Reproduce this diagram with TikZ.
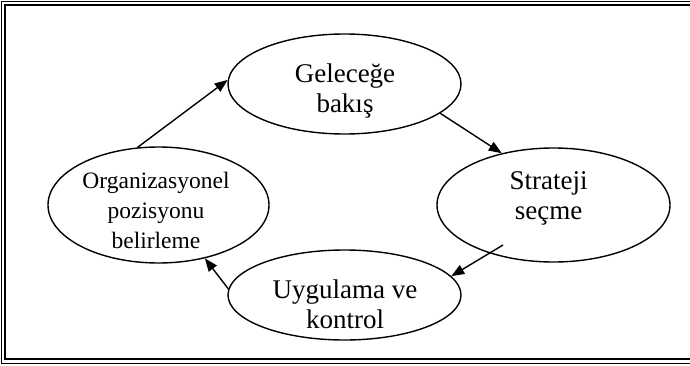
\documentclass[tikz,border=0pt]{standalone}
\usepackage{fontspec}
\setmainfont{Liberation Serif}
\usetikzlibrary{shapes.geometric,arrows.meta}

\begin{document}
\begin{tikzpicture}[x=1pt,y=1pt,
    oval/.style={draw,ellipse,line width=1.4pt,inner sep=0pt},
    txt/.style={align=center,font=\fontsize{27}{30}\selectfont},
    smalltxt/.style={align=center,font=\fontsize{23.5}{30}\selectfont},
    arr/.style={-{Triangle[length=13pt,width=10pt]},line width=1.4pt}]
    \useasboundingbox (0,0) rectangle (690,365);

    % double frame, its right side runs off the page
    \draw[line width=1pt] (700,363.7) -- (1.3,363.7) -- (1.3,1.7) -- (700,1.7);
    \draw[line width=2.4pt] (700,360.2) -- (4.8,360.2) -- (4.8,6.3) -- (700,6.3);

    \node[oval,minimum width=233pt,minimum height=100pt] (gel) at (344.5,281) {};
    \node[oval,minimum width=233pt,minimum height=114pt] (str) at (553.5,160) {};
    \node[oval,minimum width=221pt,minimum height=116pt] (org) at (158.5,160) {};
    \node[oval,minimum width=233pt,minimum height=90pt] (ugy) at (344.5,70) {};

    \node[txt] (gelt) at (345,273.8) {Geleceğe\\bakış};
    \node[txt] (strt) at (548.5,166.3) {Strateji\\seçme};
    \node[smalltxt] (orgt) at (156,155) {Organizasyonel\\pozisyonu\\belirleme};
    \node[txt] (ugyt) at (345,61.2) {Uygulama ve\\kontrol};

    % the cycle
    \draw[arr] (org.110) -- (gel.178);
    \draw[arr] (gel.-17) -- (str.135);
    \draw[arr] ([shift={(-50.5,-40)}]str.center) -- (ugy.10);
    \draw[arr] (ugy.177) -- (org.-49);
\end{tikzpicture}
\end{document}
